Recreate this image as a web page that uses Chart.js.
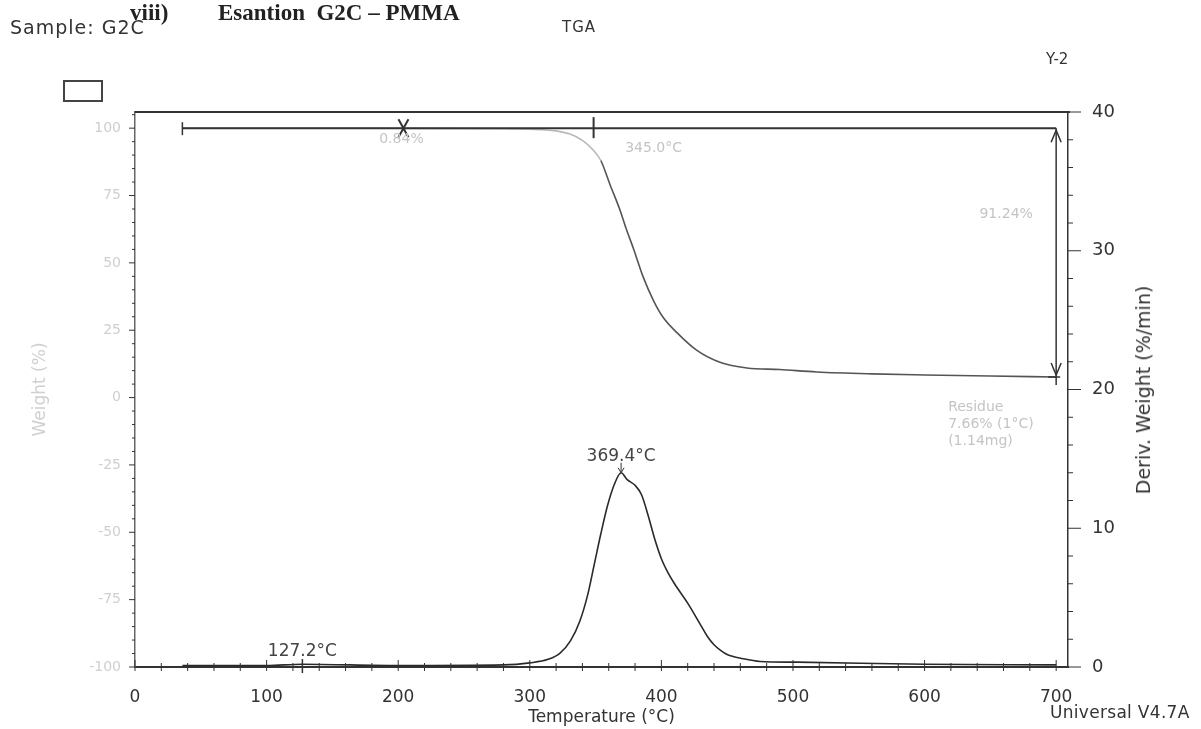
<!DOCTYPE html>
<html>
<head>
<meta charset="utf-8">
<script src="https://cdn.jsdelivr.net/npm/chart.js@4/dist/chart.umd.min.js"></script>
<style>
  body { margin: 0; background: #fff; }
  #wrap { position: relative; width: 1201px; height: 729px; overflow: hidden; }
  #chart { position: absolute; left: 0; top: 0; }
  .txt { position: absolute; font-family: "DejaVu Sans", sans-serif; color: #333; white-space: nowrap; }
  .title { font-family: "Liberation Serif", serif; font-weight: bold; font-size: 23px; color: #222; top: 0px; }
  .box { position: absolute; left: 63px; top: 80px; width: 36px; height: 18px; border: 2px solid #444; }
</style>
</head>
<body>
<div id="wrap">
  <canvas id="chart" width="1201" height="729"></canvas>
  <div class="txt title" style="left:130px;">viii)</div>
  <div class="txt title" style="left:218px;">Esantion&nbsp; G2C – PMMA</div>
  <div class="txt" style="left:10px; top:16px; font-size:19px; letter-spacing:1px;">Sample: G2C</div>
  <div class="box"></div>
  <div class="txt" style="left:562px; top:18px; font-size:15px; letter-spacing:1px;">TGA</div>
  <div class="txt" style="left:1046px; top:50px; font-size:15px;">Y-2</div>
  <div class="txt" style="left:1050px; top:702px; font-size:17px; letter-spacing:0.3px;">Universal V4.7A</div>
  <div class="txt" style="left:1143px; top:390px; font-size:19px; transform: translate(-50%, -50%) rotate(-90deg);">Deriv. Weight (%/min)</div>
</div>
<script>
// temperature (°C) / weight (%) of the TGA curve
const tgaTemp   = [36, 100, 200, 280, 300, 310, 320, 330, 340, 348, 354, 361, 369, 373, 379, 386, 394, 401, 412, 427, 445, 465, 490, 518, 560, 600, 650, 700];
const tgaWeight = [100, 100, 99.95, 99.8, 99.6, 99.4, 99.0, 97.9, 95.5, 92, 88, 79, 69, 63, 55, 45, 36, 30, 24, 17.5, 13, 11, 10.4, 9.5, 8.8, 8.4, 8.0, 7.66];

// temperature (°C) / derivative weight (%/min)
const dtgTemp  = [36, 100, 127, 200, 280, 300, 314, 323, 331, 338, 344, 349, 354, 359, 364, 369.4, 374, 380, 385, 390, 395, 400, 405, 410, 420, 430, 435, 440, 445, 450, 462, 475, 503, 600, 700];
const dtgDeriv = [0.1, 0.1, 0.2, 0.1, 0.15, 0.3, 0.55, 1.0, 1.9, 3.3, 5.2, 7.4, 9.6, 11.6, 13.1, 14.0, 13.5, 13.1, 12.4, 10.9, 9.2, 7.8, 6.8, 6.0, 4.6, 3.0, 2.2, 1.6, 1.2, 0.9, 0.6, 0.4, 0.35, 0.2, 0.15];

// annotations
const stepStart = 36, stepEnd = 700, stepLevel = 100;
const stepX = 204, onsetT = 348.5;
const residue = 7.66;
const peakT = 369.4, peakD = 14.0;
const smallPeakT = 127.2;

const xTicks = [0, 100, 200, 300, 400, 500, 600, 700];
const leftTicks = [-100, -75, -50, -25, 0, 25, 50, 75, 100];
const rightTicks = [0, 10, 20, 30, 40];

function pts(xs, ys) { return xs.map((x, i) => ({x: x, y: ys[i]})); }

const annot = {
  id: 'annot',
  afterDatasetsDraw(chart) {
    const ctx = chart.ctx, a = chart.chartArea;
    const x = chart.scales.x, y = chart.scales.y, y2 = chart.scales.y2;
    ctx.save();
    ctx.strokeStyle = '#333';
    ctx.lineCap = 'butt';

    // top frame
    ctx.lineWidth = 2;
    ctx.beginPath(); ctx.moveTo(a.left, a.top); ctx.lineTo(a.right + 2, a.top); ctx.stroke();

    // minor ticks
    ctx.lineWidth = 1;
    ctx.beginPath();
    for (let v = 0; v <= 700; v += 20) {
      const px = x.getPixelForValue(v);
      const len = v % 100 === 0 ? 7 : 4;
      ctx.moveTo(px, a.bottom - len); ctx.lineTo(px, a.bottom + 4);
    }
    for (let v = -100; v <= 105; v += 5) {
      const py = y.getPixelForValue(v);
      ctx.moveTo(a.left - (v % 25 === 0 ? 6 : 3), py); ctx.lineTo(a.left, py);
    }
    for (let v = 0; v <= 40; v += 2) {
      const py = y2.getPixelForValue(v);
      ctx.moveTo(a.right, py); ctx.lineTo(a.right + (v % 10 === 0 ? 13 : 5), py);
    }
    ctx.stroke();

    // step line at 100 %
    const sy = y.getPixelForValue(stepLevel);
    const sx0 = x.getPixelForValue(stepStart), sx1 = x.getPixelForValue(stepEnd);
    ctx.lineWidth = 2;
    ctx.beginPath(); ctx.moveTo(sx0, sy); ctx.lineTo(sx1, sy); ctx.stroke();
    ctx.lineWidth = 1.5;
    ctx.beginPath(); ctx.moveTo(sx0, sy - 6); ctx.lineTo(sx0, sy + 7); ctx.stroke();
    // X mark
    const xx = x.getPixelForValue(stepX);
    ctx.lineWidth = 2;
    ctx.beginPath();
    ctx.moveTo(xx - 5, sy - 9); ctx.lineTo(xx + 5, sy + 9);
    ctx.moveTo(xx + 5, sy - 9); ctx.lineTo(xx - 5, sy + 9);
    ctx.stroke();
    // onset tick
    const ox = x.getPixelForValue(onsetT);
    ctx.beginPath(); ctx.moveTo(ox, sy - 11); ctx.lineTo(ox, sy + 10); ctx.stroke();

    // double arrow
    const ry = y.getPixelForValue(residue);
    ctx.lineWidth = 1.5;
    ctx.beginPath(); ctx.moveTo(sx1, sy); ctx.lineTo(sx1, ry + 8); ctx.stroke();
    ctx.beginPath();
    ctx.moveTo(sx1 - 5, sy + 14); ctx.lineTo(sx1, sy + 2); ctx.lineTo(sx1 + 5, sy + 14);
    ctx.moveTo(sx1 - 5, ry - 14); ctx.lineTo(sx1, ry - 2); ctx.lineTo(sx1 + 5, ry - 14);
    ctx.moveTo(sx1 - 8, ry); ctx.lineTo(sx1 + 4, ry);
    ctx.stroke();

    // peak arrow
    const px = x.getPixelForValue(peakT), py = y2.getPixelForValue(peakD);
    ctx.lineWidth = 1;
    ctx.beginPath(); ctx.moveTo(px, py - 10); ctx.lineTo(px, py);
    ctx.moveTo(px - 3, py - 5); ctx.lineTo(px, py); ctx.lineTo(px + 3, py - 5);
    ctx.stroke();
    // small peak tick
    const spx = x.getPixelForValue(smallPeakT), spy = y2.getPixelForValue(0);
    ctx.lineWidth = 1.5;
    ctx.beginPath(); ctx.moveTo(spx, spy - 8); ctx.lineTo(spx, spy + 6); ctx.stroke();

    // labels
    ctx.textAlign = 'center';
    ctx.textBaseline = 'middle';
    ctx.font = '17px "DejaVu Sans"';
    ctx.fillStyle = '#444';
    ctx.fillText('369.4°C', px, py - 16);
    ctx.fillText('127.2°C', spx, spy - 15);
    ctx.font = '14px "DejaVu Sans"';
    ctx.fillStyle = '#c4c4c4';
    ctx.fillText('0.84%', xx - 2, sy + 11);
    ctx.fillText('345.0°C', ox + 60, sy + 20);
    ctx.fillText('91.24%', sx1 - 50, y.getPixelForValue(68));
    ctx.textAlign = 'left';
    ctx.fillText('Residue', sx1 - 108, ry + 30);
    ctx.fillText('7.66% (1°C)', sx1 - 108, ry + 47);
    ctx.fillText('(1.14mg)', sx1 - 108, ry + 64);
    ctx.restore();
  }
};

new Chart(document.getElementById('chart'), {
  type: 'line',
  data: {
    datasets: [
      {
        label: 'Weight',
        data: pts(tgaTemp, tgaWeight),
        yAxisID: 'y',
        borderColor: '#555',
        borderWidth: 1.6,
        pointRadius: 0,
        cubicInterpolationMode: 'monotone',
        segment: {
          borderColor: c => c.p0.parsed.x < onsetT ? '#b8b8b8' : '#555'
        }
      },
      {
        label: 'Deriv. Weight',
        data: pts(dtgTemp, dtgDeriv),
        yAxisID: 'y2',
        borderColor: '#2a2a2a',
        borderWidth: 1.6,
        pointRadius: 0,
        cubicInterpolationMode: 'monotone'
      }
    ]
  },
  options: {
    responsive: false,
    animation: false,
    devicePixelRatio: 1,
    layout: { padding: { top: 112, left: 0, right: 0, bottom: 0 } },
    plugins: { legend: { display: false }, tooltip: { enabled: false } },
    scales: {
      x: {
        type: 'linear',
        min: 0,
        max: 709,
        afterFit: s => { s.height = 62; },
        afterBuildTicks: s => { s.ticks = xTicks.map(v => ({value: v})); },
        grid: { drawOnChartArea: false, drawTicks: false },
        border: { color: '#333', width: 2 },
        ticks: { padding: 20, color: '#333', font: { family: 'DejaVu Sans', size: 17 } },
        title: {
          display: true,
          text: 'Temperature (°C)',
          color: '#333',
          font: { family: 'DejaVu Sans', size: 17 },
          padding: { top: 0, bottom: 1 }
        }
      },
      y: {
        position: 'left',
        min: -100,
        max: 106,
        afterFit: s => { s.width = 135; },
        afterBuildTicks: s => { s.ticks = leftTicks.map(v => ({value: v})); },
        grid: { drawOnChartArea: false, drawTicks: false },
        border: { color: '#666', width: 1.5 },
        ticks: { padding: 14, color: '#cfcfcf', font: { family: 'DejaVu Sans', size: 14 } },
        title: {
          display: true,
          text: 'Weight (%)',
          color: '#d0d0d0',
          font: { family: 'DejaVu Sans', size: 17 },
          padding: { top: 30, bottom: 0 }
        }
      },
      y2: {
        position: 'right',
        min: 0,
        max: 40,
        afterFit: s => { s.width = 133; },
        afterBuildTicks: s => { s.ticks = rightTicks.map(v => ({value: v})); },
        grid: { drawOnChartArea: false, drawTicks: false },
        border: { color: '#333', width: 1.5 },
        ticks: { padding: 24, color: '#333', font: { family: 'DejaVu Sans', size: 18 } }
      }
    }
  },
  plugins: [annot]
});
</script>
</body>
</html>
